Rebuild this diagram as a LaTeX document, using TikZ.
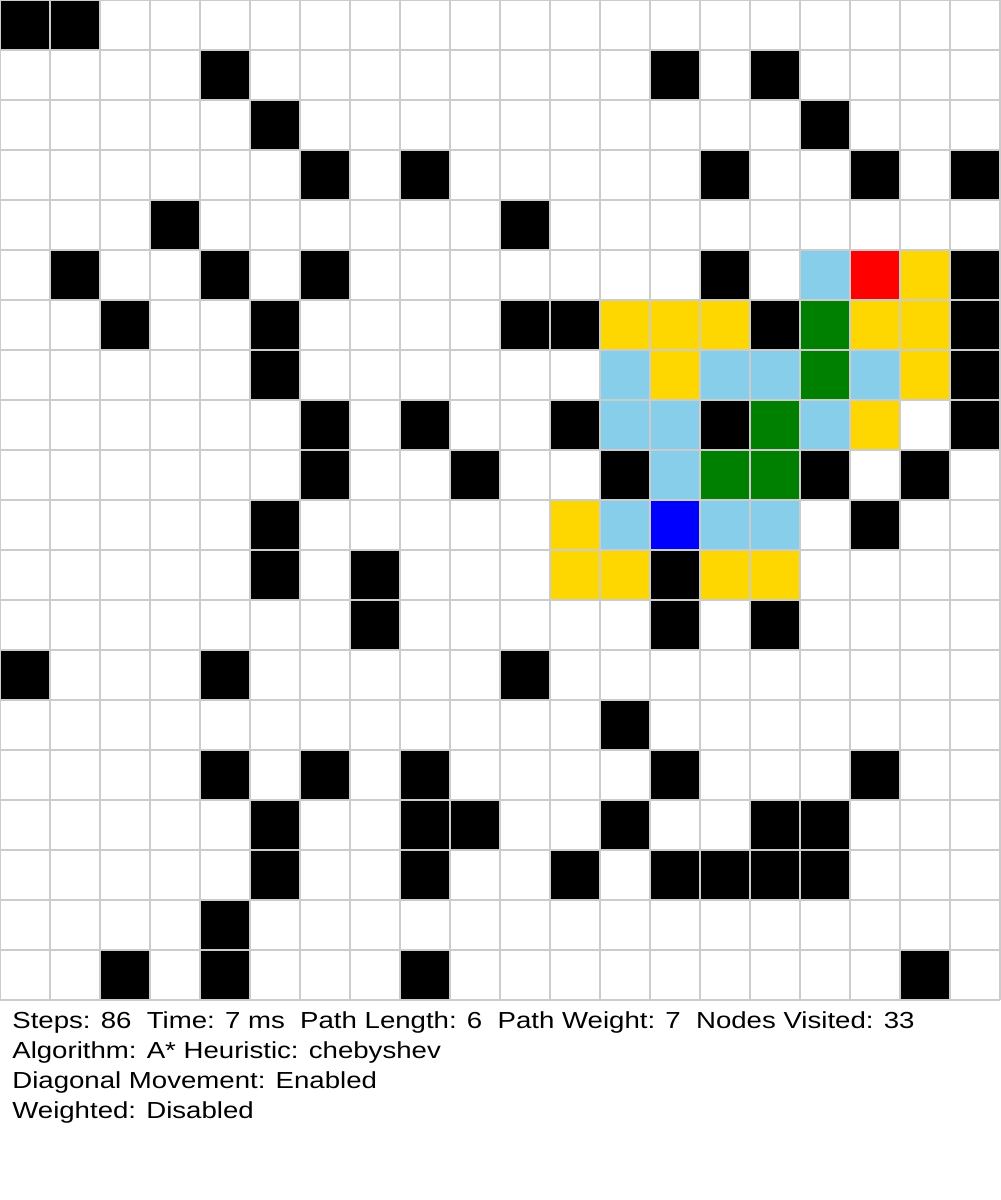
\documentclass[tikz,border=0pt]{standalone}
\usepackage{fontspec}
\setmainfont{Liberation Sans}
\newfontfamily\statfont[FakeStretch=1.19]{Liberation Sans}
\definecolor{cgridline}{HTML}{CCCCCC}
\definecolor{copen}{HTML}{87CEEB}
\definecolor{cclosed}{HTML}{FFD700}
\definecolor{cpath}{HTML}{008000}
\definecolor{cstart}{HTML}{0000FF}
\definecolor{cgoal}{HTML}{FF0000}
\tikzset{
  cell/.style={fill=#1},
  cell/.default=black,
  gridline/.style={draw=cgridline, line width=1pt},
  stat/.style={anchor=base west, inner sep=0pt, font=\statfont\fontsize{13.2}{17}\selectfont},
}

\begin{document}
\begin{tikzpicture}
  \useasboundingbox (0,0) rectangle (20,-24);
  \fill[white] (0,0) rectangle (20,-24);
  % walls
  \foreach \c/\r in {0/0,1/0, 4/1,13/1,15/1, 5/2,16/2, 6/3,8/3,14/3,17/3,19/3, 3/4,10/4,
      1/5,4/5,6/5,14/5,19/5, 2/6,5/6,10/6,11/6,15/6,19/6, 5/7,19/7, 6/8,8/8,11/8,14/8,19/8,
      6/9,9/9,12/9,16/9,18/9, 5/10,17/10, 5/11,7/11,13/11, 7/12,13/12,15/12, 0/13,4/13,10/13,
      12/14, 4/15,6/15,8/15,13/15,17/15, 5/16,8/16,9/16,12/16,15/16,16/16,
      5/17,8/17,11/17,13/17,14/17,15/17,16/17, 4/18, 2/19,4/19,8/19,18/19}
    \fill[cell] (\c,-\r) rectangle ++(1,-1);
  % open set
  \foreach \c/\r in {16/5, 12/7,14/7,15/7,17/7, 12/8,13/8,16/8, 13/9, 12/10,14/10,15/10}
    \fill[cell=copen] (\c,-\r) rectangle ++(1,-1);
  % closed set
  \foreach \c/\r in {18/5, 12/6,13/6,14/6,17/6,18/6, 13/7,18/7, 17/8, 11/10, 11/11,12/11,14/11,15/11}
    \fill[cell=cclosed] (\c,-\r) rectangle ++(1,-1);
  % path
  \foreach \c/\r in {16/6, 16/7, 15/8, 14/9, 15/9}
    \fill[cell=cpath] (\c,-\r) rectangle ++(1,-1);
  \fill[cell=cstart] (13,-10) rectangle ++(1,-1);
  \fill[cell=cgoal] (17,-5) rectangle ++(1,-1);
  \draw[gridline] (0,0) grid (20,-20);

  \node[stat] (stats) at (0.24,-20.56) {Steps: 86\ \ Time: 7 ms\ \ Path Length: 6\ \ Path Weight: 7\ \ Nodes Visited: 33};
  \node[stat] (algo) at (0.24,-21.16) {Algorithm: A* Heuristic: chebyshev};
  \node[stat] (diag) at (0.24,-21.76) {Diagonal Movement: Enabled};
  \node[stat] (weight) at (0.24,-22.36) {Weighted: Disabled};
\end{tikzpicture}
\end{document}
